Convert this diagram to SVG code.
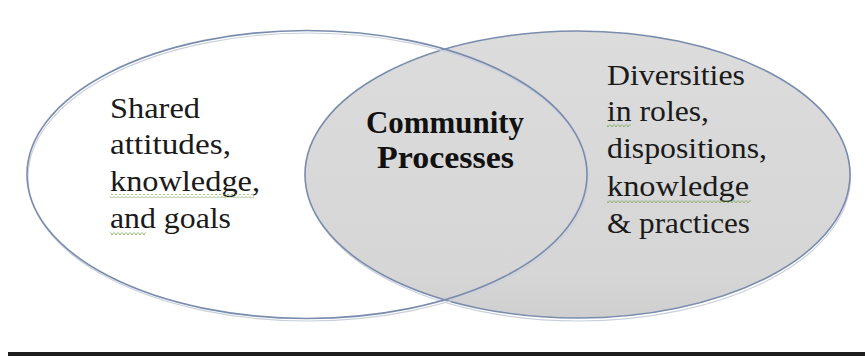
<svg xmlns="http://www.w3.org/2000/svg" width="865" height="360" viewBox="0 0 865 360">
<style>
.t{font-family:"Liberation Serif","Times New Roman",serif;font-size:29px;fill:#1a1a1a}
.c{font-family:"Liberation Serif","Times New Roman",serif;font-size:31px;font-weight:bold;fill:#111}
.outline{fill:none;stroke:#7a8cad;stroke-width:1.6}
.shadow{fill:none;stroke:#c9d0dc;stroke-width:1.2}
</style>
<defs>
<pattern id="sq" width="4" height="4" patternUnits="userSpaceOnUse">
<polyline points="0,3 1,1.5 2,0.5 3,1.5 4,3" fill="none" stroke="#6fa04a" stroke-width="0.8"/>
</pattern>
<linearGradient id="g" x1="0" y1="0" x2="0" y2="1">
<stop offset="0" stop-color="#dcdcdc"/>
<stop offset="0.85" stop-color="#d6d6d6"/>
<stop offset="1" stop-color="#cfcfcf"/>
</linearGradient>
</defs>
<rect width="865" height="360" fill="#fff"/>
<g id="right-set">
<ellipse class="shadow" cx="578.5" cy="177" rx="272" ry="144"/>
<ellipse cx="577.5" cy="174.5" rx="272.5" ry="143.5" fill="url(#g)" stroke="#7a8cad" stroke-width="1.6"/>
</g>
<g id="left-set">
<ellipse class="shadow" cx="308" cy="177" rx="280" ry="144"/>
<ellipse class="outline" cx="307" cy="174.5" rx="280" ry="144"/>
</g>
<g id="left-label">
<text class="t" x="110" y="118" textLength="90" lengthAdjust="spacingAndGlyphs">Shared</text>
<text class="t" x="110" y="154" textLength="121" lengthAdjust="spacingAndGlyphs">attitudes,</text>
<text class="t" x="110" y="191" textLength="150" lengthAdjust="spacingAndGlyphs">knowledge,</text>
<text class="t" x="110" y="228" textLength="121" lengthAdjust="spacingAndGlyphs">and goals</text>
<rect x="110" y="194" width="144" height="4" fill="url(#sq)"/>
<rect x="110" y="231" width="36" height="4" fill="url(#sq)"/>
</g>
<g id="center-label">
<text class="c" x="366" y="133" textLength="158" lengthAdjust="spacingAndGlyphs">Community</text>
<text class="c" x="377" y="168" textLength="137" lengthAdjust="spacingAndGlyphs">Processes</text>
</g>
<g id="right-label">
<text class="t" x="607" y="85" textLength="138" lengthAdjust="spacingAndGlyphs">Diversities</text>
<text class="t" x="607" y="121" textLength="102" lengthAdjust="spacingAndGlyphs">in roles,</text>
<text class="t" x="607" y="158" textLength="160" lengthAdjust="spacingAndGlyphs">dispositions,</text>
<text class="t" x="607" y="196" textLength="142" lengthAdjust="spacingAndGlyphs">knowledge</text>
<text class="t" x="607" y="233" textLength="143" lengthAdjust="spacingAndGlyphs">&amp; practices</text>
<rect x="607" y="124" width="24" height="4" fill="url(#sq)"/>
<rect x="607" y="199" width="144" height="4" fill="url(#sq)"/>
</g>
<g id="connectors"></g>
<rect id="rule" x="8" y="352" width="857" height="4" fill="#1e1e1e"/>
</svg>
